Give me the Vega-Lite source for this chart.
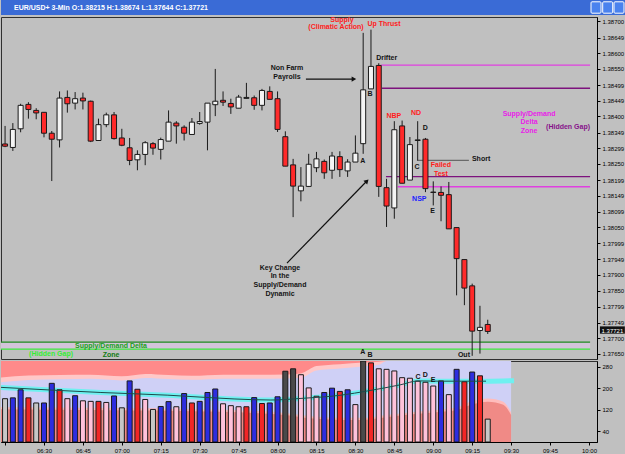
{
"$schema": "https://vega.github.io/schema/vega-lite/v6.json",
"padding": 0,
"background": "#c0c0c0",
"spacing": 0,
"config": {
  "view": {"stroke": "#303030", "strokeWidth": 1},
  "font": "Liberation Sans",
  "scale": {"continuousPadding": 0},
  "text": {"font": "Liberation Sans", "fontSize": 7, "fontWeight": "bold"},
  "axis": {"labelFont": "Liberation Sans", "labelFontSize": 6, "labelColor": "#000000", "tickColor": "#000000", "domainColor": "#000000", "grid": false, "tickSize": 3, "labelPadding": 2}
},
"datasets": {
  "bars": [
    {"t":"2011-06-03T06:15:00Z","o":1.38313,"h":1.38370,"l":1.38303,"c":1.38306,"v":161,"k":"grey"},
    {"t":"2011-06-03T06:18:00Z","o":1.38302,"h":1.38379,"l":1.38291,"c":1.38359,"v":164,"k":"blue"},
    {"t":"2011-06-03T06:21:00Z","o":1.38361,"h":1.38440,"l":1.38350,"c":1.38435,"v":194,"k":"blue"},
    {"t":"2011-06-03T06:24:00Z","o":1.38438,"h":1.38445,"l":1.38393,"c":1.38422,"v":164,"k":"red"},
    {"t":"2011-06-03T06:27:00Z","o":1.38419,"h":1.38426,"l":1.38391,"c":1.38411,"v":145,"k":"grey"},
    {"t":"2011-06-03T06:30:00Z","o":1.38413,"h":1.38414,"l":1.38334,"c":1.38347,"v":145,"k":"blue"},
    {"t":"2011-06-03T06:33:00Z","o":1.38347,"h":1.38354,"l":1.38196,"c":1.38328,"v":218,"k":"blue"},
    {"t":"2011-06-03T06:36:00Z","o":1.38326,"h":1.38479,"l":1.38302,"c":1.38458,"v":194,"k":"red"},
    {"t":"2011-06-03T06:39:00Z","o":1.38460,"h":1.38482,"l":1.38412,"c":1.38440,"v":161,"k":"pink"},
    {"t":"2011-06-03T06:42:00Z","o":1.38442,"h":1.38477,"l":1.38422,"c":1.38456,"v":172,"k":"blue"},
    {"t":"2011-06-03T06:45:00Z","o":1.38458,"h":1.38475,"l":1.38422,"c":1.38449,"v":153,"k":"pink"},
    {"t":"2011-06-03T06:48:00Z","o":1.38448,"h":1.38450,"l":1.38319,"c":1.38322,"v":151,"k":"pink"},
    {"t":"2011-06-03T06:51:00Z","o":1.38324,"h":1.38393,"l":1.38324,"c":1.38374,"v":151,"k":"red"},
    {"t":"2011-06-03T06:54:00Z","o":1.38374,"h":1.38412,"l":1.38366,"c":1.38405,"v":147,"k":"pink"},
    {"t":"2011-06-03T06:57:00Z","o":1.38405,"h":1.38414,"l":1.38327,"c":1.38330,"v":171,"k":"blue"},
    {"t":"2011-06-03T07:00:00Z","o":1.38332,"h":1.38361,"l":1.38306,"c":1.38309,"v":127,"k":"grey"},
    {"t":"2011-06-03T07:03:00Z","o":1.38301,"h":1.38332,"l":1.38246,"c":1.38261,"v":227,"k":"blue"},
    {"t":"2011-06-03T07:06:00Z","o":1.38263,"h":1.38293,"l":1.38230,"c":1.38280,"v":196,"k":"red"},
    {"t":"2011-06-03T07:09:00Z","o":1.38280,"h":1.38322,"l":1.38246,"c":1.38317,"v":158,"k":"pink"},
    {"t":"2011-06-03T07:12:00Z","o":1.38314,"h":1.38319,"l":1.38279,"c":1.38300,"v":121,"k":"grey"},
    {"t":"2011-06-03T07:15:00Z","o":1.38296,"h":1.38333,"l":1.38264,"c":1.38327,"v":132,"k":"blue"},
    {"t":"2011-06-03T07:18:00Z","o":1.38322,"h":1.38419,"l":1.38322,"c":1.38382,"v":150,"k":"blue"},
    {"t":"2011-06-03T07:21:00Z","o":1.38379,"h":1.38385,"l":1.38314,"c":1.38370,"v":131,"k":"pink"},
    {"t":"2011-06-03T07:24:00Z","o":1.38366,"h":1.38372,"l":1.38324,"c":1.38347,"v":180,"k":"blue"},
    {"t":"2011-06-03T07:27:00Z","o":1.38343,"h":1.38395,"l":1.38343,"c":1.38382,"v":145,"k":"red"},
    {"t":"2011-06-03T07:30:00Z","o":1.38378,"h":1.38414,"l":1.38374,"c":1.38384,"v":151,"k":"blue"},
    {"t":"2011-06-03T07:33:00Z","o":1.38382,"h":1.38442,"l":1.38293,"c":1.38442,"v":184,"k":"blue"},
    {"t":"2011-06-03T07:36:00Z","o":1.38437,"h":1.38550,"l":1.38401,"c":1.38448,"v":197,"k":"blue"},
    {"t":"2011-06-03T07:39:00Z","o":1.38451,"h":1.38479,"l":1.38433,"c":1.38445,"v":142,"k":"pink"},
    {"t":"2011-06-03T07:42:00Z","o":1.38441,"h":1.38456,"l":1.38408,"c":1.38430,"v":135,"k":"pink"},
    {"t":"2011-06-03T07:45:00Z","o":1.38426,"h":1.38468,"l":1.38426,"c":1.38461,"v":131,"k":"pink"},
    {"t":"2011-06-03T07:48:00Z","o":1.38457,"h":1.38506,"l":1.38456,"c":1.38460,"v":131,"k":"red"},
    {"t":"2011-06-03T07:51:00Z","o":1.38459,"h":1.38466,"l":1.38421,"c":1.38435,"v":165,"k":"blue"},
    {"t":"2011-06-03T07:54:00Z","o":1.38435,"h":1.38487,"l":1.38419,"c":1.38482,"v":143,"k":"red"},
    {"t":"2011-06-03T07:57:00Z","o":1.38479,"h":1.38495,"l":1.38454,"c":1.38454,"v":145,"k":"blue"},
    {"t":"2011-06-03T08:00:00Z","o":1.38456,"h":1.38479,"l":1.38351,"c":1.38359,"v":168,"k":"blue"},
    {"t":"2011-06-03T08:03:00Z","o":1.38336,"h":1.38353,"l":1.38243,"c":1.38243,"v":263,"k":"black"},
    {"t":"2011-06-03T08:06:00Z","o":1.38247,"h":1.38266,"l":1.38082,"c":1.38180,"v":272,"k":"black"},
    {"t":"2011-06-03T08:09:00Z","o":1.38165,"h":1.38240,"l":1.38132,"c":1.38180,"v":250,"k":"pink"},
    {"t":"2011-06-03T08:12:00Z","o":1.38179,"h":1.38282,"l":1.38177,"c":1.38249,"v":201,"k":"pink"},
    {"t":"2011-06-03T08:15:00Z","o":1.38238,"h":1.38288,"l":1.38224,"c":1.38266,"v":170,"k":"pink"},
    {"t":"2011-06-03T08:18:00Z","o":1.38258,"h":1.38264,"l":1.38203,"c":1.38222,"v":184,"k":"blue"},
    {"t":"2011-06-03T08:21:00Z","o":1.38230,"h":1.38288,"l":1.38203,"c":1.38275,"v":200,"k":"blue"},
    {"t":"2011-06-03T08:24:00Z","o":1.38273,"h":1.38290,"l":1.38209,"c":1.38232,"v":188,"k":"red"},
    {"t":"2011-06-03T08:27:00Z","o":1.38228,"h":1.38265,"l":1.38209,"c":1.38256,"v":194,"k":"blue"},
    {"t":"2011-06-03T08:30:00Z","o":1.38256,"h":1.38340,"l":1.38256,"c":1.38284,"v":139,"k":"pink"},
    {"t":"2011-06-03T08:33:00Z","o":1.38314,"h":1.38664,"l":1.38282,"c":1.38484,"v":301,"k":"black"},
    {"t":"2011-06-03T08:36:00Z","o":1.38487,"h":1.38674,"l":1.38487,"c":1.38558,"v":294,"k":"red"},
    {"t":"2011-06-03T08:39:00Z","o":1.38561,"h":1.38568,"l":1.38146,"c":1.38179,"v":272,"k":"pink"},
    {"t":"2011-06-03T08:42:00Z","o":1.38175,"h":1.38203,"l":1.38051,"c":1.38117,"v":270,"k":"pink"},
    {"t":"2011-06-03T08:45:00Z","o":1.38111,"h":1.38385,"l":1.38077,"c":1.38358,"v":264,"k":"pink"},
    {"t":"2011-06-03T08:48:00Z","o":1.38370,"h":1.38387,"l":1.38189,"c":1.38189,"v":239,"k":"pink"},
    {"t":"2011-06-03T08:51:00Z","o":1.38199,"h":1.38335,"l":1.38199,"c":1.38311,"v":237,"k":"pink"},
    {"t":"2011-06-03T08:54:00Z","o":1.38324,"h":1.38385,"l":1.38261,"c":1.38326,"v":226,"k":"pink"},
    {"t":"2011-06-03T08:57:00Z","o":1.38328,"h":1.38332,"l":1.38161,"c":1.38172,"v":222,"k":"pink"},
    {"t":"2011-06-03T09:00:00Z","o":1.38161,"h":1.38195,"l":1.38119,"c":1.38160,"v":208,"k":"pink"},
    {"t":"2011-06-03T09:03:00Z","o":1.38160,"h":1.38179,"l":1.38069,"c":1.38151,"v":227,"k":"blue"},
    {"t":"2011-06-03T09:06:00Z","o":1.38153,"h":1.38193,"l":1.38045,"c":1.38045,"v":176,"k":"pink"},
    {"t":"2011-06-03T09:09:00Z","o":1.38049,"h":1.38049,"l":1.37835,"c":1.37951,"v":270,"k":"blue"},
    {"t":"2011-06-03T09:12:00Z","o":1.37948,"h":1.37948,"l":1.37804,"c":1.37858,"v":224,"k":"red"},
    {"t":"2011-06-03T09:15:00Z","o":1.37865,"h":1.37872,"l":1.37644,"c":1.37722,"v":260,"k":"blue"},
    {"t":"2011-06-03T09:18:00Z","o":1.37724,"h":1.37802,"l":1.37651,"c":1.37734,"v":246,"k":"red"},
    {"t":"2011-06-03T09:21:00Z","o":1.37743,"h":1.37758,"l":1.37713,"c":1.37721,"v":85,"k":"grey"}
  ],
  "levels": [
    {"t0":"2011-06-03T08:39:50Z","t1":"2011-06-03T10:00:26Z","p":1.38562,"kind":"magenta"},
    {"t0":"2011-06-03T08:40:14Z","t1":"2011-06-03T10:00:26Z","p":1.38489,"kind":"purple"},
    {"t0":"2011-06-03T08:53:44Z","t1":"2011-06-03T09:13:44Z","p":1.38261,"kind":"grey"},
    {"t0":"2011-06-03T08:41:47Z","t1":"2011-06-03T10:00:26Z","p":1.38210,"kind":"purple"},
    {"t0":"2011-06-03T08:46:20Z","t1":"2011-06-03T10:00:26Z","p":1.38178,"kind":"magenta"},
    {"t0":"2011-06-03T06:13:26Z","t1":"2011-06-03T10:00:26Z","p":1.37687,"kind":"dkgreen"},
    {"t0":"2011-06-03T06:13:26Z","t1":"2011-06-03T10:00:26Z","p":1.37665,"kind":"ltgreen"}
  ],
  "notes": [
    {"t":"2011-06-03T08:24:50Z","p":1.38706,"label":"Supply","kind":"red"},
    {"t":"2011-06-03T08:22:32Z","p":1.38682,"label":"(Climatic Action)","kind":"red"},
    {"t":"2011-06-03T08:41:02Z","p":1.38691,"label":"Up Thrust","kind":"red"},
    {"t":"2011-06-03T08:42:02Z","p":1.38584,"label":"Drifter","kind":"black"},
    {"t":"2011-06-03T08:03:38Z","p":1.38552,"label":"Non Farm","kind":"black"},
    {"t":"2011-06-03T08:03:38Z","p":1.38523,"label":"Payrolls","kind":"black"},
    {"t":"2011-06-03T08:35:38Z","p":1.38472,"label":"B","kind":"black"},
    {"t":"2011-06-03T08:32:50Z","p":1.38259,"label":"A","kind":"black"},
    {"t":"2011-06-03T08:44:50Z","p":1.38400,"label":"NBP","kind":"red"},
    {"t":"2011-06-03T08:53:20Z","p":1.38411,"label":"ND","kind":"red"},
    {"t":"2011-06-03T08:56:56Z","p":1.38362,"label":"D","kind":"black"},
    {"t":"2011-06-03T08:53:44Z","p":1.38239,"label":"C","kind":"black"},
    {"t":"2011-06-03T09:18:26Z","p":1.38265,"label":"Short","kind":"black"},
    {"t":"2011-06-03T09:02:56Z","p":1.38246,"label":"Failed","kind":"red"},
    {"t":"2011-06-03T09:02:56Z","p":1.38218,"label":"Test","kind":"red"},
    {"t":"2011-06-03T08:54:38Z","p":1.38140,"label":"NSP","kind":"blue"},
    {"t":"2011-06-03T08:59:44Z","p":1.38100,"label":"E","kind":"black"},
    {"t":"2011-06-03T09:36:56Z","p":1.38409,"label":"Supply/Demand","kind":"magenta"},
    {"t":"2011-06-03T09:36:56Z","p":1.38382,"label":"Delta","kind":"magenta"},
    {"t":"2011-06-03T09:36:56Z","p":1.38355,"label":"Zone","kind":"magenta"},
    {"t":"2011-06-03T09:51:56Z","p":1.38367,"label":"(Hidden Gap)","kind":"purple"},
    {"t":"2011-06-03T08:00:56Z","p":1.37921,"label":"Key Change","kind":"black"},
    {"t":"2011-06-03T08:00:56Z","p":1.37895,"label":"In the","kind":"black"},
    {"t":"2011-06-03T08:00:56Z","p":1.37868,"label":"Supply/Demand","kind":"black"},
    {"t":"2011-06-03T08:00:56Z","p":1.37840,"label":"Dynamic","kind":"black"},
    {"t":"2011-06-03T06:55:50Z","p":1.37674,"label":"Supply/Demand Delta","kind":"green"},
    {"t":"2011-06-03T06:32:44Z","p":1.37649,"label":"(Hidden Gap)","kind":"lightgreen"},
    {"t":"2011-06-03T06:55:50Z","p":1.37646,"label":"Zone","kind":"darkgreen"},
    {"t":"2011-06-03T09:11:50Z","p":1.37646,"label":"Out","kind":"black"},
    {"t":"2011-06-03T08:32:50Z","p":1.37656,"label":"A","kind":"black"},
    {"t":"2011-06-03T08:35:38Z","p":1.37646,"label":"B","kind":"black"}
  ],
  "arrows": [
    {"t0":"2011-06-03T08:10:56Z","p0":1.38518,"t1":"2011-06-03T08:29:02Z","p1":1.38518},
    {"t0":"2011-06-03T08:03:38Z","p0":1.37937,"t1":"2011-06-03T08:34:03Z","p1":1.38193}
  ],
  "bg": [
    {"t":"2011-06-03T06:13:26Z","up":240,"upE":222,"lo":122,"loE":130},
    {"t":"2011-06-03T06:24:00Z","up":247,"upE":230,"lo":121,"loE":129},
    {"t":"2011-06-03T06:36:00Z","up":249,"upE":233,"lo":120,"loE":128},
    {"t":"2011-06-03T06:48:00Z","up":250,"upE":235,"lo":119,"loE":127},
    {"t":"2011-06-03T07:00:00Z","up":244,"upE":229,"lo":118,"loE":126},
    {"t":"2011-06-03T07:09:00Z","up":253,"upE":238,"lo":117,"loE":125},
    {"t":"2011-06-03T07:18:00Z","up":249,"upE":234,"lo":116,"loE":124},
    {"t":"2011-06-03T07:27:00Z","up":246,"upE":231,"lo":114,"loE":122},
    {"t":"2011-06-03T07:39:00Z","up":250,"upE":235,"lo":112,"loE":120},
    {"t":"2011-06-03T07:51:00Z","up":250,"upE":235,"lo":108,"loE":116},
    {"t":"2011-06-03T08:03:00Z","up":251,"upE":236,"lo":100,"loE":108},
    {"t":"2011-06-03T08:09:00Z","up":255,"upE":239,"lo":92,"loE":100},
    {"t":"2011-06-03T08:15:00Z","up":282,"upE":266,"lo":86,"loE":94},
    {"t":"2011-06-03T08:24:00Z","up":289,"upE":273,"lo":82,"loE":90},
    {"t":"2011-06-03T08:33:00Z","up":295,"upE":281,"lo":82,"loE":90},
    {"t":"2011-06-03T08:39:00Z","up":298,"upE":287,"lo":88,"loE":96},
    {"t":"2011-06-03T08:42:00Z","up":301,"upE":301,"lo":92,"loE":100},
    {"t":"2011-06-03T08:51:00Z","up":301,"upE":301,"lo":102,"loE":110},
    {"t":"2011-06-03T09:00:00Z","up":301,"upE":301,"lo":110,"loE":118},
    {"t":"2011-06-03T09:09:00Z","up":301,"upE":301,"lo":118,"loE":128},
    {"t":"2011-06-03T09:15:00Z","up":301,"upE":301,"lo":140,"loE":152},
    {"t":"2011-06-03T09:21:00Z","up":301,"upE":301,"lo":150,"loE":162},
    {"t":"2011-06-03T09:27:00Z","up":301,"upE":301,"lo":138,"loE":150},
    {"t":"2011-06-03T09:30:00Z","up":301,"upE":301,"lo":100,"loE":110}
  ],
  "avg": [
    {"t":"2011-06-03T06:13:26Z","v":203},
    {"t":"2011-06-03T06:51:56Z","v":184},
    {"t":"2011-06-03T07:17:44Z","v":174},
    {"t":"2011-06-03T07:43:14Z","v":160},
    {"t":"2011-06-03T07:57:26Z","v":156},
    {"t":"2011-06-03T08:09:02Z","v":162},
    {"t":"2011-06-03T08:24:26Z","v":174},
    {"t":"2011-06-03T08:34:50Z","v":190},
    {"t":"2011-06-03T08:47:32Z","v":213},
    {"t":"2011-06-03T08:54:08Z","v":227},
    {"t":"2011-06-03T09:02:56Z","v":226},
    {"t":"2011-06-03T09:20:20Z","v":226}
  ],
  "band": [
    {"t":"2011-06-03T06:13:26Z","v":203},
    {"t":"2011-06-03T06:51:56Z","v":184},
    {"t":"2011-06-03T07:17:44Z","v":174},
    {"t":"2011-06-03T07:43:14Z","v":160},
    {"t":"2011-06-03T07:57:26Z","v":156},
    {"t":"2011-06-03T08:09:02Z","v":162},
    {"t":"2011-06-03T08:24:26Z","v":174},
    {"t":"2011-06-03T08:34:50Z","v":190},
    {"t":"2011-06-03T08:47:32Z","v":213},
    {"t":"2011-06-03T08:54:08Z","v":227},
    {"t":"2011-06-03T09:02:56Z","v":226},
    {"t":"2011-06-03T09:20:20Z","v":226},
    {"t":"2011-06-03T09:31:08Z","v":228}
  ],
  "vnotes": [
    {"t":"2011-06-03T08:54:08Z","v":243,"label":"C"},
    {"t":"2011-06-03T08:56:56Z","v":250,"label":"D"},
    {"t":"2011-06-03T08:59:56Z","v":229,"label":"E"}
  ]
},
"vconcat": [
  {
    "width": 625, "height": 15,
    "view": {"fill": "#3a6bd6", "stroke": null},
    "layer": [
      {
        "data": {"values": [{"label": "EUR/USD+ 3-Min O:1.38215 H:1.38674 L:1.37644 C:1.37721"}]},
        "mark": {"type": "text", "align": "left", "baseline": "middle", "color": "#ffffff", "fontSize": 7, "fontWeight": "bold", "dx": 13},
        "encoding": {
          "text": {"field": "label"},
          "x": {"datum": 0, "type": "quantitative", "scale": {"domain": [0, 1]}, "axis": null},
          "y": {"datum": 0.5, "type": "quantitative", "scale": {"domain": [0, 1]}, "axis": null}
        }
      },
      {
        "data": {"values": [{"b": "min", "x0": 0.944, "x1": 0.960, "g": "_"}, {"b": "max", "x0": 0.9627, "x1": 0.9787, "g": "□"}, {"b": "close", "x0": 0.9808, "x1": 0.9968, "g": "×"}]},
        "mark": {"type": "rect", "fill": "#4a82ee", "stroke": "#ffffff", "strokeWidth": 1, "cornerRadius": 1},
        "encoding": {
          "x": {"field": "x0", "type": "quantitative", "axis": null},
          "x2": {"field": "x1"},
          "y": {"datum": 0.12, "type": "quantitative", "axis": null},
          "y2": {"datum": 0.88}
        }
      }
    ]
  },
  {
    "width": 596, "height": 342,
    "resolve": {"axis": {"x": "independent", "y": "independent"}},
    "layer": [
      {
        "data": {"values": [{"t0":"2011-06-03T06:13:26Z","t1":"2011-06-03T10:00:26Z","p0":1.37665,"p1":1.37687}]},
        "mark": {"type": "rect", "color": "#d4c4da", "clip": true},
        "encoding": {
          "x": {"field": "t0", "type": "temporal", "scale": {"type": "utc", "padding": 0, "domain": [{"year":2011,"month":6,"date":3,"hours":6,"minutes":13,"seconds":26,"utc":true},{"year":2011,"month":6,"date":3,"hours":10,"minutes":3,"seconds":6,"utc":true}]}, "axis": null},
          "x2": {"field": "t1"},
          "y": {"field": "p0", "type": "quantitative", "scale": {"domain": [1.37634, 1.38714], "zero": false, "nice": false, "padding": 0}, "axis": {"orient": "right", "title": null, "format": ".5f", "labelOverlap": false, "values": [1.387,1.38649,1.386,1.3855,1.38499,1.38449,1.384,1.38349,1.38299,1.3825,1.38199,1.38149,1.38099,1.3805,1.37999,1.37949,1.379,1.3785,1.37799,1.37749,1.377,1.3765]}},
          "y2": {"field": "p1"}
        }
      },
      {
        "data": {"name": "levels"},
        "mark": {"type": "rule", "strokeWidth": 1.3, "clip": true},
        "encoding": {
          "x": {"field": "t0", "type": "temporal", "axis": null},
          "x2": {"field": "t1"},
          "y": {"field": "p", "type": "quantitative", "axis": null},
          "stroke": {"field": "kind", "type": "nominal", "legend": null, "scale": {"domain": ["magenta","purple","grey","dkgreen","ltgreen"], "range": ["#e040e0","#7d127d","#6a6a6a","#1f8a1f","#3ce83c"]}}
        }
      },
      {
        "data": {"name": "bars"},
        "mark": {"type": "rule", "color": "#1a1a1a", "strokeWidth": 1, "clip": true},
        "encoding": {
          "x": {"field": "t", "type": "temporal", "axis": null},
          "y": {"field": "l", "type": "quantitative", "axis": null},
          "y2": {"field": "h"}
        }
      },
      {
        "data": {"name": "bars"},
        "mark": {"type": "bar", "size": 5, "stroke": "#1a1a1a", "strokeWidth": 1, "clip": true},
        "encoding": {
          "x": {"field": "t", "type": "temporal", "axis": null},
          "y": {"field": "o", "type": "quantitative", "axis": null},
          "y2": {"field": "c"},
          "color": {"condition": {"test": "datum.c >= datum.o", "value": "#f4f4f4"}, "value": "#ff2a2a"}
        }
      },
      {
        "data": {"name": "arrows"},
        "mark": {"type": "rule", "color": "#101010", "strokeWidth": 1.2},
        "encoding": {
          "x": {"field": "t0", "type": "temporal", "axis": null},
          "x2": {"field": "t1"},
          "y": {"field": "p0", "type": "quantitative", "axis": null},
          "y2": {"field": "p1"}
        }
      },
      {
        "data": {"values": [{"t":"2011-06-03T08:29:26Z","p":1.38518}]},
        "mark": {"type": "point", "shape": "triangle-right", "filled": true, "size": 28, "color": "#101010", "opacity": 1},
        "encoding": {
          "x": {"field": "t", "type": "temporal", "axis": null},
          "y": {"field": "p", "type": "quantitative", "axis": null}
        }
      },
      {
        "data": {"values": [{"t":"2011-06-03T08:34:26Z","p":1.38196}]},
        "mark": {"type": "point", "shape": "triangle-up", "angle": 44, "filled": true, "size": 28, "color": "#101010", "opacity": 1},
        "encoding": {
          "x": {"field": "t", "type": "temporal", "axis": null},
          "y": {"field": "p", "type": "quantitative", "axis": null}
        }
      },
      {
        "data": {"name": "notes"},
        "mark": {"type": "text", "baseline": "middle", "align": "center"},
        "encoding": {
          "x": {"field": "t", "type": "temporal", "axis": null},
          "y": {"field": "p", "type": "quantitative", "axis": null},
          "text": {"field": "label"},
          "fill": {"field": "kind", "type": "nominal", "legend": null, "scale": {"domain": ["red","black","blue","magenta","purple","green","lightgreen","darkgreen"], "range": ["#ff1c1c","#141414","#1c1cff","#e81ce8","#86128a","#17a317","#33ee33","#117a11"]}}
        }
      },
      {
        "data": {"values": [{"t0":"2011-06-03T10:04:14Z","t1":"2011-06-03T10:13:50Z","p0":1.37714,"p1":1.37737}]},
        "mark": {"type": "rect", "color": "#111111"},
        "encoding": {
          "x": {"field": "t0", "type": "temporal", "axis": null},
          "x2": {"field": "t1"},
          "y": {"field": "p0", "type": "quantitative", "axis": null},
          "y2": {"field": "p1"}
        }
      },
      {
        "data": {"values": [{"t":"2011-06-03T10:09:02Z","p":1.37721,"label":"1.37721"}]},
        "mark": {"type": "text", "color": "#ffffff", "fontSize": 6, "fontWeight": "normal", "baseline": "middle"},
        "encoding": {
          "x": {"field": "t", "type": "temporal", "axis": null},
          "y": {"field": "p", "type": "quantitative", "axis": null},
          "text": {"field": "label"}
        }
      }
    ]
  },
  {
    "width": 596, "height": 81,
    "resolve": {"axis": {"x": "independent", "y": "independent"}},
    "layer": [
      {
        "data": {"name": "bg"},
        "mark": {"type": "area", "color": "#cfd0f6", "interpolate": "monotone", "clip": true},
        "encoding": {
          "x": {"field": "t", "type": "temporal", "scale": {"type": "utc", "padding": 0, "domain": [{"year":2011,"month":6,"date":3,"hours":6,"minutes":13,"seconds":26,"utc":true},{"year":2011,"month":6,"date":3,"hours":10,"minutes":3,"seconds":6,"utc":true}]}, "axis": null},
          "y": {"datum": 301, "type": "quantitative", "scale": {"domain": [0, 301], "nice": false, "zero": true, "padding": 0}, "axis": null},
          "y2": {"datum": 0}
        }
      },
      {
        "data": {"name": "bg"},
        "mark": {"type": "area", "color": "#ffc8c8", "interpolate": "monotone", "clip": true},
        "encoding": {
          "x": {"field": "t", "type": "temporal", "axis": null},
          "y": {"field": "upE", "type": "quantitative", "axis": null},
          "y2": {"datum": 301}
        }
      },
      {
        "data": {"name": "bg"},
        "mark": {"type": "area", "color": "#ff8a8a", "interpolate": "monotone", "clip": true},
        "encoding": {
          "x": {"field": "t", "type": "temporal", "axis": null},
          "y": {"field": "up", "type": "quantitative", "axis": null},
          "y2": {"datum": 301}
        }
      },
      {
        "data": {"name": "bg"},
        "mark": {"type": "area", "color": "#ffbcbc", "interpolate": "monotone", "clip": true},
        "encoding": {
          "x": {"field": "t", "type": "temporal", "axis": null},
          "y": {"field": "loE", "type": "quantitative", "axis": null},
          "y2": {"datum": 0}
        }
      },
      {
        "data": {"name": "bg"},
        "mark": {"type": "area", "color": "#f08a86", "interpolate": "monotone", "clip": true},
        "encoding": {
          "x": {"field": "t", "type": "temporal", "axis": null},
          "y": {"field": "lo", "type": "quantitative", "axis": null},
          "y2": {"datum": 0}
        }
      },
      {
        "data": {"name": "band"},
        "mark": {"type": "line", "color": "#6ff0f0", "strokeWidth": 5, "interpolate": "monotone", "clip": true},
        "encoding": {
          "x": {"field": "t", "type": "temporal", "axis": null},
          "y": {"field": "v", "type": "quantitative", "axis": null}
        }
      },
      {
        "data": {"name": "bars"},
        "mark": {"type": "bar", "size": 5, "stroke": "#1a1a1a", "strokeWidth": 1, "clip": true},
        "encoding": {
          "x": {"field": "t", "type": "temporal", "axis": {"orient": "bottom", "title": null, "format": "%H:%M", "labelFlush": false, "labelOverlap": false, "labelExpr": "datum.label == '06:15' ? '' : datum.label", "values": [
            {"year":2011,"month":6,"date":3,"hours":6,"minutes":15,"utc":true},
            {"year":2011,"month":6,"date":3,"hours":6,"minutes":30,"utc":true},
            {"year":2011,"month":6,"date":3,"hours":6,"minutes":45,"utc":true},
            {"year":2011,"month":6,"date":3,"hours":7,"minutes":0,"utc":true},
            {"year":2011,"month":6,"date":3,"hours":7,"minutes":15,"utc":true},
            {"year":2011,"month":6,"date":3,"hours":7,"minutes":30,"utc":true},
            {"year":2011,"month":6,"date":3,"hours":7,"minutes":45,"utc":true},
            {"year":2011,"month":6,"date":3,"hours":8,"minutes":0,"utc":true},
            {"year":2011,"month":6,"date":3,"hours":8,"minutes":15,"utc":true},
            {"year":2011,"month":6,"date":3,"hours":8,"minutes":30,"utc":true},
            {"year":2011,"month":6,"date":3,"hours":8,"minutes":45,"utc":true},
            {"year":2011,"month":6,"date":3,"hours":9,"minutes":0,"utc":true},
            {"year":2011,"month":6,"date":3,"hours":9,"minutes":15,"utc":true},
            {"year":2011,"month":6,"date":3,"hours":9,"minutes":30,"utc":true},
            {"year":2011,"month":6,"date":3,"hours":9,"minutes":45,"utc":true},
            {"year":2011,"month":6,"date":3,"hours":10,"minutes":0,"utc":true}
          ]}},
          "y": {"field": "v", "type": "quantitative", "axis": {"orient": "right", "title": null, "values": [40, 120, 200, 280], "labelOverlap": false}},
          "color": {"field": "k", "type": "nominal", "legend": null, "scale": {"domain": ["grey","blue","red","pink","black"], "range": ["#c6c6c6","#2d2de0","#f22626","#ffc2da","#4a4a4a"]}}
        }
      },
      {
        "data": {"name": "avg"},
        "mark": {"type": "line", "color": "#1e4a4a", "strokeWidth": 1, "interpolate": "monotone", "clip": true},
        "encoding": {
          "x": {"field": "t", "type": "temporal", "axis": null},
          "y": {"field": "v", "type": "quantitative", "axis": null}
        }
      },
      {
        "data": {"name": "vnotes"},
        "mark": {"type": "text", "baseline": "middle", "color": "#141414"},
        "encoding": {
          "x": {"field": "t", "type": "temporal", "axis": null},
          "y": {"field": "v", "type": "quantitative", "axis": null},
          "text": {"field": "label"}
        }
      }
    ]
  }
]
}
